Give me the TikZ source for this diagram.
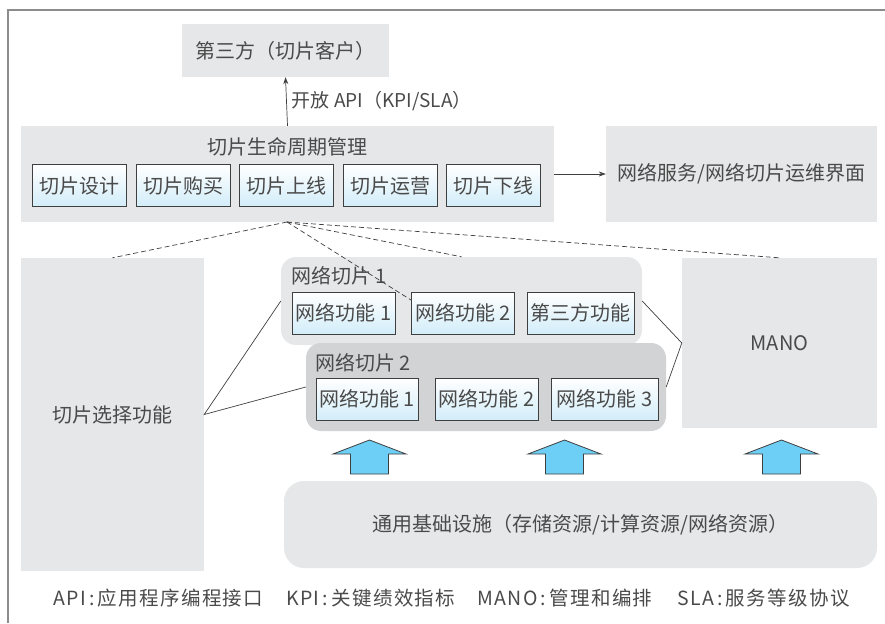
\documentclass[tikz,border=0pt]{standalone}
\usepackage{fontspec}
\setmainfont{Noto Sans CJK SC}
\usetikzlibrary{arrows.meta}
\definecolor{txt}{HTML}{4A4A4A}
\definecolor{boxgray}{HTML}{E6E7E8}
\definecolor{slicedark}{HTML}{D1D3D4}
\definecolor{lblue}{HTML}{D2EDF9}
\definecolor{arrowblue}{HTML}{6DCFF6}
\definecolor{edgec}{HTML}{3F3F3F}
\definecolor{framec}{HTML}{8C8C8C}
\begin{document}
\begin{tikzpicture}[x=1pt,y=-1pt,
  font=\fontsize{20}{23}\selectfont, text=txt,
  graybox/.style={rectangle, fill=boxgray, draw=none, inner sep=0pt},
  slicebox/.style={rectangle, rounded corners=15pt, draw=none, inner sep=0pt},
  fbox/.style={rectangle, draw=edgec, line width=0.8pt, top color=white, bottom color=lblue, inner sep=0pt, minimum height=42},
  conn/.style={draw=edgec, line width=0.7pt},
  dashconn/.style={draw=edgec, line width=0.7pt, dashed, dash pattern=on 5pt off 3pt},
  uparrow/.style={fill=arrowblue, draw=edgec, line width=0.8pt, line join=miter},
  legend/.style={anchor=west, inner sep=0pt, font=\fontsize{19.5}{23}\selectfont\addfontfeature{LetterSpace=7}}
]
\useasboundingbox (0,0) rectangle (885,623);
% frame
\draw[framec, line width=1.5pt] (8,623) -- (8,10) -- (885,10);

% top
\node[graybox, minimum width=207, minimum height=53] (top) at (285.5,50.5) {第三方（切片客户）};

% lifecycle
\node[graybox, minimum width=533, minimum height=96] (life) at (287.5,174) {};
\node[inner sep=0pt] (lifetitle) at (287.5,147) {切片生命周期管理};
\node[fbox, minimum width=94] (l1) at (79,185.5) {切片设计};
\node[fbox, minimum width=94] (l2) at (183,185.5) {切片购买};
\node[fbox, minimum width=94] (l3) at (286,185.5) {切片上线};
\node[fbox, minimum width=94] (l4) at (390,185.5) {切片运营};
\node[fbox, minimum width=94] (l5) at (493,185.5) {切片下线};

% services
\node[graybox, minimum width=271, minimum height=96] (svc) at (741.5,174) {网络服务/网络切片运维界面};

% selection
\node[graybox, minimum width=183, minimum height=313] (sel) at (112.5,414.5) {};
\node[inner sep=0pt] (seltext) at (112,415) {切片选择功能};

% slice 1
\node[slicebox, fill=boxgray, minimum width=361, minimum height=88] (ns1) at (461.5,301) {};
\node[anchor=west, inner sep=0pt] (ns1lab) at (291,276) {网络切片 1};
\node[fbox, minimum width=103] (n11) at (343.5,313) {网络功能 1};
\node[fbox, minimum width=103] (n12) at (463,313) {网络功能 2};
\node[fbox, minimum width=107] (n13) at (580.5,313) {第三方功能};

% slice 2
\node[slicebox, fill=slicedark, minimum width=360, minimum height=88] (ns2) at (486,387) {};
\node[anchor=west, inner sep=0pt] (ns2lab) at (315,363) {网络切片 2};
\node[fbox, minimum width=102] (n21) at (367,399) {网络功能 1};
\node[fbox, minimum width=103] (n22) at (486.5,399) {网络功能 2};
\node[fbox, minimum width=107] (n23) at (604.5,399) {网络功能 3};

% MANO
\node[graybox, minimum width=195, minimum height=170] (mano) at (779.5,343) {MANO};

% infrastructure
\node[rectangle, rounded corners=20pt, fill=boxgray, inner sep=0pt, minimum width=593, minimum height=87] (infra) at (580.5,524.5) {通用基础设施（存储资源/计算资源/网络资源）};

% connectors
\draw[conn, -{Stealth[length=7pt,width=5pt]}] (life.north) -- (top.south)
  node[pos=0.5, right=5pt, inner sep=0pt, font=\fontsize{19}{22}\selectfont] (apilab) {开放 API（KPI/SLA）};
\draw[conn, -{Stealth[length=7pt,width=5pt]}] (life.east) -- (svc.west);

\coordinate (apex) at (287,222);
\coordinate (n12pt) at (411,300);
\draw[dashconn] (apex) -- (sel.north);
\draw[dashconn] (apex) -- (n12pt);
\draw[dashconn] (apex) -- (ns1.north);
\draw[dashconn] (apex) -- (mano.north);

\draw[conn] (ns1.west) -- (sel.east) -- (ns2.west);
\draw[conn] (ns1.east) -- (mano.west) -- (ns2.east);

% blue arrows
\foreach \cx in {369.5,564.5,781.5}{
  \draw[uparrow] (\cx-19,474) -- (\cx-19,454) -- (\cx-36.5,454) -- (\cx,440)
     -- (\cx+36.5,454) -- (\cx+19,454) -- (\cx+19,474) -- cycle;
}

% legend
\node[legend] (lg1) at (53,598) {API\,:\,应用程序编程接口};
\node[legend] (lg2) at (286,598) {KPI\,:\,关键绩效指标};
\node[legend] (lg3) at (477,598) {MANO\,:\,管理和编排};
\node[legend] (lg4) at (677,598) {SLA\,:\,服务等级协议};
\end{tikzpicture}
\end{document}
